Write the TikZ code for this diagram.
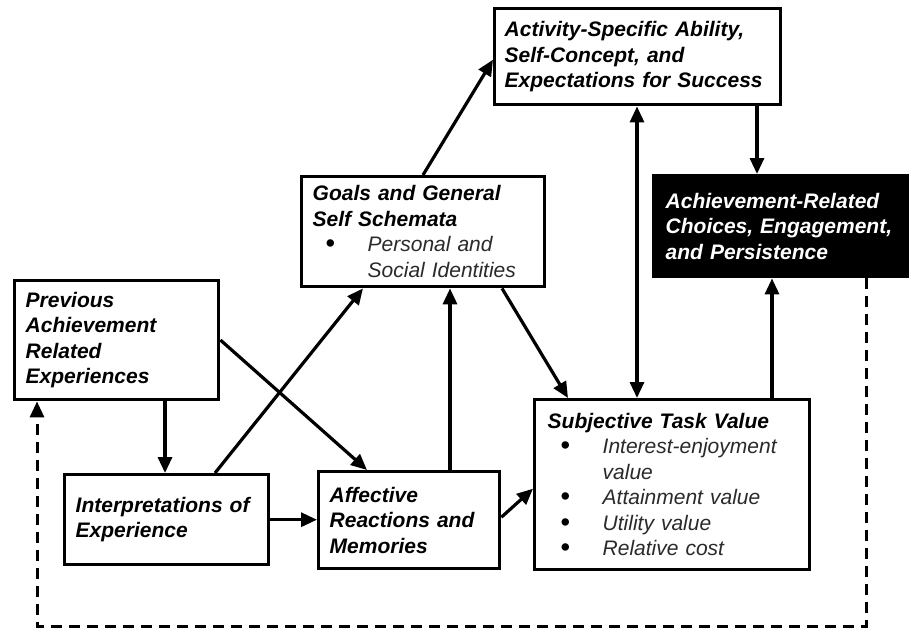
\documentclass[tikz,border=0pt]{standalone}
\usepackage{fontspec}
\usepackage{graphicx}
\setmainfont{Liberation Sans}
\usetikzlibrary{arrows.meta}
\definecolor{itemgray}{HTML}{2A2A2A}
\hyphenpenalty=10000
\exhyphenpenalty=10000
% bullet list line and its continuation line
\newcommand{\bitem}[1]{\makebox[55pt][l]{\hspace{13pt}\smash{\raisebox{-1pt}{\scalebox{1.3}{\upshape\mdseries\textbullet}}}}{\mdseries\itshape\color{itemgray}#1}}
\newcommand{\bcont}[1]{\hspace*{55pt}{\mdseries\itshape\color{itemgray}#1}}
\begin{document}
\begin{tikzpicture}[x=1pt, y=-1pt,
  box/.style={draw, line width=3.4pt, fill=white, anchor=north west,
    inner xsep=10pt, inner ysep=2pt, align=left,
    font=\fontsize{21}{25.5}\selectfont\bfseries\itshape},
  darkbox/.style={box, fill=black, text=white},
  arr/.style={line width=3.2pt, -{Triangle[length=16pt,width=14pt]}},
  dblarr/.style={line width=3.2pt, {Triangle[length=16pt,width=14pt]}-{Triangle[length=16pt,width=14pt]}},
  feedback/.style={line width=3pt, dash pattern=on 11pt off 7pt, -{Triangle[length=16pt,width=14pt]}}]
\fill[white] (0,0) rectangle (910,634);
\useasboundingbox (0,0) rectangle (910,634);

% boxes
\node[box, minimum width=286pt, minimum height=96pt, text width=266pt] (act) at (493,7)
  {Activity-Specific Ability,\\Self-Concept, and\\Expectations for Success};
\node[box, minimum width=243pt, minimum height=110pt, text width=221pt, inner xsep=11pt] (goals) at (300,175)
  {Goals and General\\Self Schemata\\\bitem{Personal and}\\\bcont{Social Identities}};
\node[darkbox, minimum width=254pt, minimum height=101pt, text width=236pt, inner xsep=9pt] (ach) at (652,174)
  {\hspace*{3pt}Achievement-Related\\\hspace*{3pt}Choices, Engagement,\\\hspace*{3pt}and Persistence};
\node[box, minimum width=204pt, minimum height=119pt, text width=182pt, inner xsep=11pt] (prev) at (13,279)
  {Previous\\Achievement\\Related\\Experiences};
\node[box, minimum width=204pt, minimum height=90pt, text width=182pt, inner xsep=11pt] (interp) at (63,473)
  {Interpretations of\\Experience};
\node[box, minimum width=181pt, minimum height=97pt, text width=159pt, inner xsep=11pt] (aff) at (317,470)
  {Affective\\Reactions and\\Memories};
\node[box, minimum width=275pt, minimum height=170pt, text width=249pt, inner xsep=13pt] (stv) at (533,398)
  {Subjective Task Value\\\bitem{Interest-enjoyment}\\\bcont{value}\\\bitem{Attainment value}\\\bitem{Utility value}\\\bitem{Relative cost}};

% reference points for vertical connectors
\coordinate (xAchIn) at ([xshift=105pt]ach.north west);
\coordinate (xActStv) at ([xshift=104pt]stv.north west);
\coordinate (xStvAch) at ([xshift=239pt]stv.north west);
\coordinate (xAffGoals) at ([xshift=133pt]aff.north west);
\coordinate (xPrevInt) at ([xshift=102pt]interp.north west);
\coordinate (fbR) at (866,626);
\coordinate (fbL) at (37,626);

% connectors
\draw[arr] ([xshift=123pt]goals.north west) -- ([yshift=-3pt]act.west);
\draw[arr] (act.south -| xAchIn) -- (xAchIn);
\draw[dblarr] (act.south -| xActStv) -- (xActStv);
\draw[arr] (xStvAch) -- (ach.south -| xStvAch);
\draw[arr] ([xshift=202pt]goals.south west) -- ([xshift=35pt]stv.north west);
\draw[arr] (xAffGoals) -- (goals.south -| xAffGoals);
\draw[arr] ([xshift=152pt]interp.north west) -- ([xshift=63pt]goals.south west);
\draw[arr] ([yshift=-61pt]prev.north east) -- ([xshift=50pt]aff.north west);
\draw[arr] (prev.south -| xPrevInt) -- (xPrevInt);
\draw[arr] (interp.east) -- (interp.east -| aff.west);
\draw[arr] ([yshift=3pt]aff.east) -- ([yshift=-4pt]stv.west);
\draw[feedback] (ach.south -| fbR) -- (fbR) -- (fbL) -- (prev.south -| fbL);
\end{tikzpicture}
\end{document}
